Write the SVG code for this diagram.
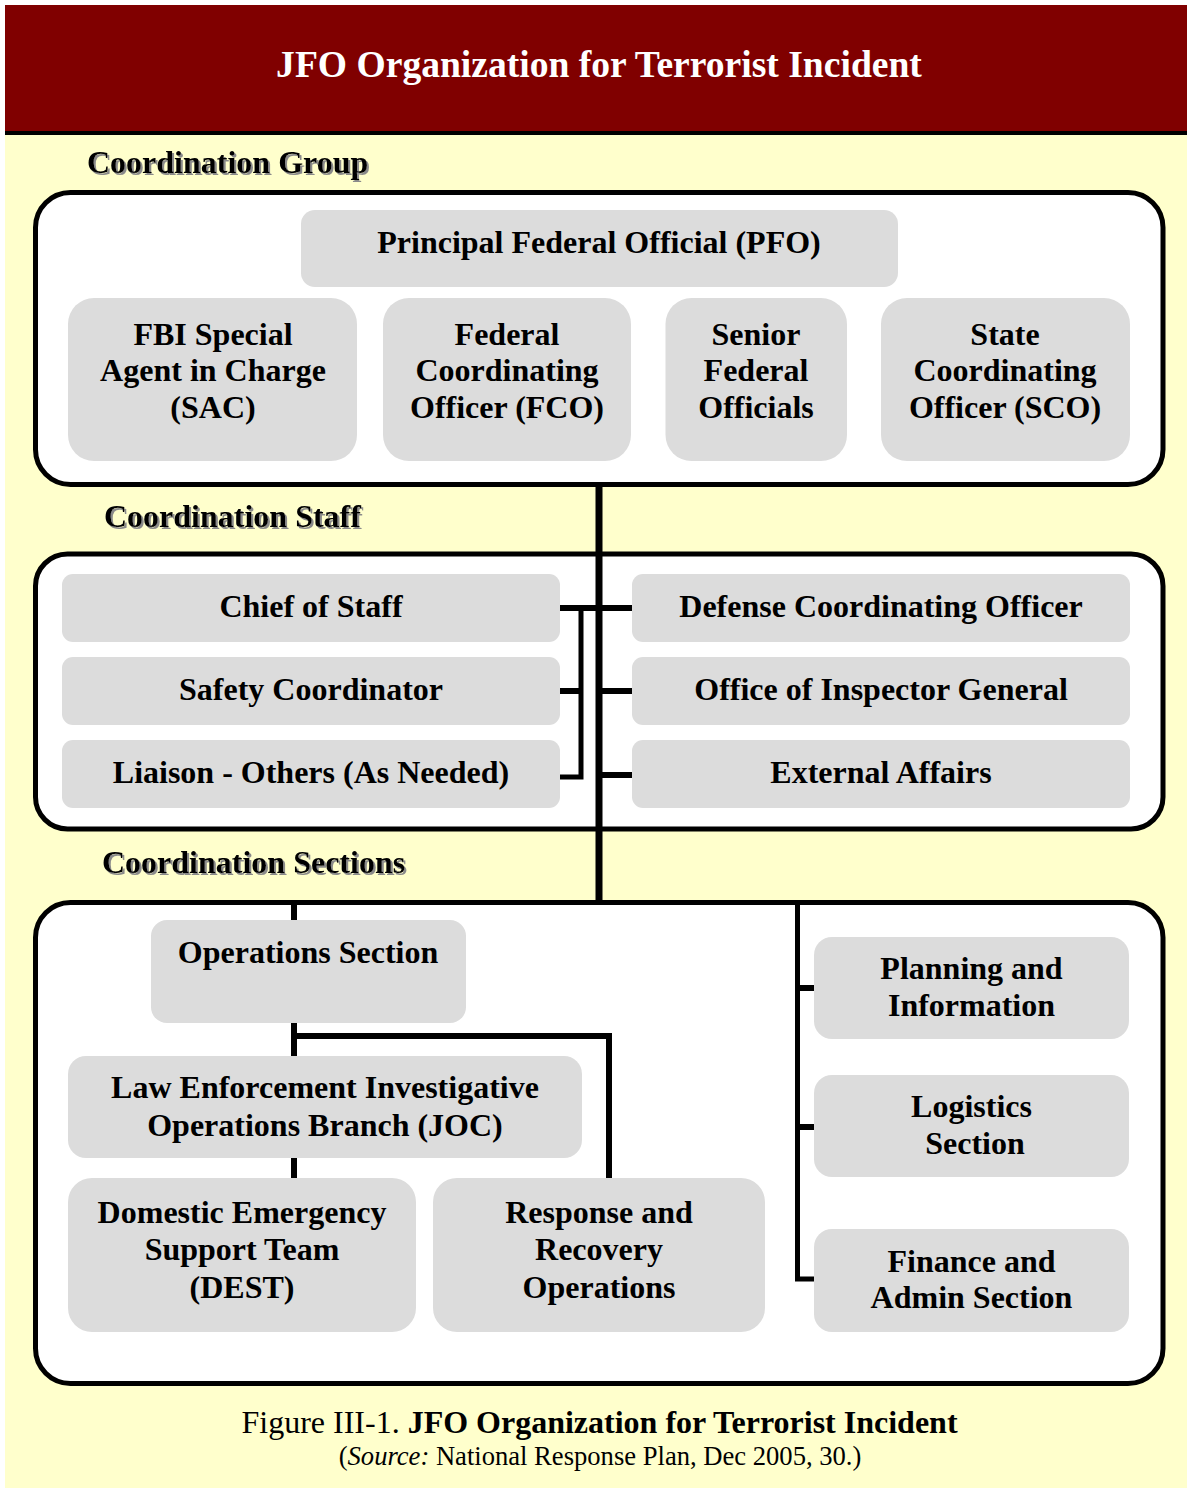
<svg xmlns="http://www.w3.org/2000/svg" width="1187" height="1488" viewBox="0 0 1187 1488">
<defs>
<filter id="sh" x="-5%" y="-20%" width="110%" height="150%">
<feDropShadow dx="2" dy="2" stdDeviation="0.6" flood-color="#8a8a8a" flood-opacity="1"/>
</filter>
</defs>
<style>
text{font-family:"Liberation Serif","Times New Roman",serif;font-weight:bold;font-size:32px;fill:#000;text-anchor:middle}
.sec{fill:#fff;stroke:#000;stroke-width:5}
.nd{fill:#dcdcdc}
.hdr{text-anchor:start;filter:url(#sh)}
.ln{stroke:#000;fill:none;stroke-linecap:butt}
.cap{font-weight:normal}
</style>
<rect x="0" y="0" width="1187" height="1488" fill="#fff"/>
<rect x="5" y="132" width="1182" height="1356" fill="#ffffcc"/>
<rect x="5" y="5" width="1182" height="127" fill="#800000"/>
<line x1="5" y1="133" x2="1187" y2="133" stroke="#000" stroke-width="4"/>
<text x="599" y="77" style="font-size:37.6px;fill:#fff">JFO Organization for Terrorist Incident</text>

<text class="hdr" x="87" y="173">Coordination Group</text>
<text class="hdr" x="104" y="527">Coordination Staff</text>
<text class="hdr" x="102" y="873">Coordination Sections</text>

<rect class="sec" x="35.5" y="192.5" width="1127.5" height="292" rx="35"/>
<rect class="sec" x="35.5" y="554" width="1127.5" height="275" rx="32"/>
<rect class="sec" x="35.5" y="902.5" width="1127.5" height="481" rx="35"/>

<g id="connectors">
<line class="ln" x1="599" y1="486" x2="599" y2="902" stroke-width="7"/>
<line class="ln" x1="560" y1="608" x2="632" y2="608" stroke-width="6"/>
<line class="ln" x1="599" y1="691" x2="632" y2="691" stroke-width="6"/>
<line class="ln" x1="599" y1="775" x2="632" y2="775" stroke-width="6"/>
<polyline class="ln" points="560,691 581,691" stroke-width="6"/>
<polyline class="ln" points="581,608 581,777 560,777" stroke-width="5"/>
<line class="ln" x1="294" y1="905" x2="294" y2="920" stroke-width="6"/>
<line class="ln" x1="294" y1="1022" x2="294" y2="1056" stroke-width="6"/>
<polyline class="ln" points="294,1036 609,1036 609,1180" stroke-width="6"/>
<line class="ln" x1="294" y1="1158" x2="294" y2="1178" stroke-width="6"/>
<polyline class="ln" points="797.5,905 797.5,1279 814,1279" stroke-width="5"/>
<line class="ln" x1="797" y1="988" x2="814" y2="988" stroke-width="6"/>
<line class="ln" x1="797" y1="1127" x2="814" y2="1127" stroke-width="6"/>
</g>

<g id="pfo"><rect class="nd" x="301" y="210" width="597" height="77" rx="14"/><text x="599" y="253">Principal Federal Official (PFO)</text></g>
<g id="sac"><rect class="nd" x="68" y="298" width="289" height="163" rx="26"/><text x="213" y="345">FBI Special</text><text x="213" y="381">Agent in Charge</text><text x="213" y="418">(SAC)</text></g>
<g id="fco"><rect class="nd" x="383" y="298" width="248" height="163" rx="26"/><text x="507" y="345">Federal</text><text x="507" y="381">Coordinating</text><text x="507" y="418">Officer (FCO)</text></g>
<g id="sfo"><rect class="nd" x="665.5" y="298" width="181.5" height="163" rx="26"/><text x="756" y="345">Senior</text><text x="756" y="381">Federal</text><text x="756" y="418">Officials</text></g>
<g id="sco"><rect class="nd" x="881" y="298" width="249" height="163" rx="26"/><text x="1005" y="345">State</text><text x="1005" y="381">Coordinating</text><text x="1005" y="418">Officer (SCO)</text></g>

<g id="chief"><rect class="nd" x="62" y="574" width="498" height="68" rx="11"/><text x="311" y="617">Chief of Staff</text></g>
<g id="safety"><rect class="nd" x="62" y="657" width="498" height="68" rx="11"/><text x="311" y="700">Safety Coordinator</text></g>
<g id="liaison"><rect class="nd" x="62" y="740" width="498" height="68" rx="11"/><text x="311" y="783">Liaison - Others (As Needed)</text></g>
<g id="dco"><rect class="nd" x="632" y="574" width="498" height="68" rx="11"/><text x="881" y="617">Defense Coordinating Officer</text></g>
<g id="oig"><rect class="nd" x="632" y="657" width="498" height="68" rx="11"/><text x="881" y="700">Office of Inspector General</text></g>
<g id="ext"><rect class="nd" x="632" y="740" width="498" height="68" rx="11"/><text x="881" y="783">External Affairs</text></g>

<g id="ops"><rect class="nd" x="151" y="920" width="315" height="103" rx="16"/><text x="308" y="963">Operations Section</text></g>
<g id="joc"><rect class="nd" x="68" y="1056" width="514" height="102" rx="18"/><text x="325" y="1098">Law Enforcement Investigative</text><text x="325" y="1136">Operations Branch (JOC)</text></g>
<g id="dest"><rect class="nd" x="68" y="1178" width="348" height="154" rx="24"/><text x="242" y="1223">Domestic Emergency</text><text x="242" y="1260">Support Team</text><text x="242" y="1298">(DEST)</text></g>
<g id="rro"><rect class="nd" x="433" y="1178" width="332" height="154" rx="24"/><text x="599" y="1223">Response and</text><text x="599" y="1260">Recovery</text><text x="599" y="1298">Operations</text></g>
<g id="plan"><rect class="nd" x="814" y="937" width="315" height="102" rx="18"/><text x="971.5" y="979">Planning and</text><text x="971.5" y="1016">Information</text></g>
<g id="log"><rect class="nd" x="814" y="1075" width="315" height="102" rx="18"/><text x="971.5" y="1117">Logistics</text><text x="975" y="1154">Section</text></g>
<g id="fin"><rect class="nd" x="814" y="1229" width="315" height="103" rx="18"/><text x="971.5" y="1272">Finance and</text><text x="971.5" y="1308">Admin Section</text></g>

<text x="599.5" y="1433" class="cap">Figure III-1. <tspan style="font-weight:bold">JFO Organization for Terrorist Incident</tspan></text>
<text x="600" y="1465" class="cap" style="font-size:26.6px">(<tspan font-style="italic">Source:</tspan> National Response Plan, Dec 2005, 30.)</text>
</svg>
